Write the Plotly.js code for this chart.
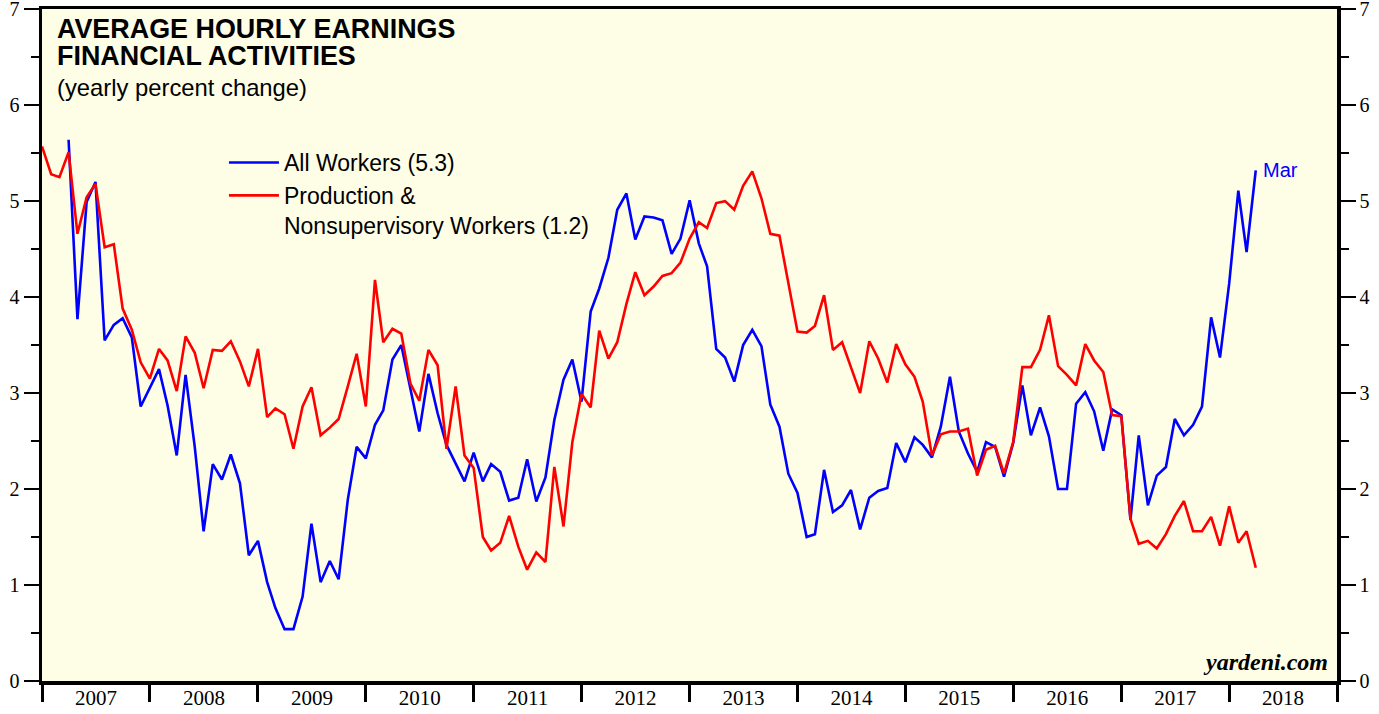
<!DOCTYPE html>
<html>
<head>
<meta charset="utf-8">
<script src="https://cdn.plot.ly/plotly-3.0.1.min.js"></script>
<style>
  html, body { margin: 0; padding: 0; background: #ffffff; }
  #chart { width: 1379px; height: 714px; }
</style>
</head>
<body>
<div id="chart"></div>
<script>
// Monthly series, first red observation plotted at 2007-01 boundary
const firstMonth = [2007, 0];   // year, month index of first plotted point
const blueOffset = 3;           // blue series starts 3 months later

const allWorkers = [
  5.64, 3.77, 4.99, 5.20, 3.55, 3.71, 3.78, 3.58, 2.86, 3.06, 3.25, 2.87, 2.35, 3.19, 2.44, 1.56, 2.26, 2.10, 2.36, 2.06, 1.31, 1.46, 1.03, 0.76, 0.54,
  0.54, 0.88, 1.64, 1.03, 1.25, 1.06, 1.89, 2.44, 2.32, 2.67, 2.82, 3.35, 3.50, 3.05, 2.60, 3.20, 2.79, 2.46, 2.27, 2.08, 2.38, 2.08, 2.26, 2.18, 1.88, 1.91, 2.31,
  1.87, 2.12, 2.72, 3.14, 3.35, 2.91, 3.85, 4.09, 4.41, 4.91, 5.08, 4.60, 4.84, 4.83, 4.80, 4.45, 4.61, 5.01, 4.56, 4.32, 3.46, 3.37, 3.12, 3.50, 3.66, 3.49, 2.88, 2.65,
  2.16, 1.96, 1.50, 1.53, 2.20, 1.76, 1.83, 1.99, 1.58, 1.91, 1.98, 2.01, 2.48, 2.28, 2.54, 2.46, 2.33, 2.65, 3.17, 2.60, 2.37, 2.18, 2.49, 2.44, 2.13, 2.48,
  3.08, 2.56, 2.85, 2.55, 2.00, 2.00, 2.89, 3.01, 2.81, 2.40, 2.83, 2.77, 1.68, 2.56, 1.83, 2.14, 2.23, 2.73, 2.56, 2.67, 2.86, 3.79, 3.37, 4.14, 5.11, 4.47, 5.32
];

const productionWorkers = [
  5.57, 5.28, 5.25, 5.51, 4.66, 5.04, 5.18, 4.52, 4.55, 3.88, 3.66, 3.32, 3.15, 3.46, 3.34, 3.02, 3.59, 3.42, 3.05, 3.45, 3.44, 3.54, 3.33, 3.07, 3.46, 2.75, 2.84, 2.78,
  2.42, 2.86, 3.06, 2.56, 2.64, 2.73, 3.07, 3.41, 2.86, 4.18, 3.53, 3.67, 3.62, 3.10, 2.92, 3.45, 3.29, 2.42, 3.07, 2.35, 2.22, 1.50, 1.36, 1.44, 1.72, 1.40, 1.16,
  1.34, 1.24, 2.23, 1.61, 2.49, 2.99, 2.85, 3.65, 3.36, 3.53, 3.93, 4.26, 4.02, 4.11, 4.22, 4.25, 4.36, 4.61, 4.78, 4.72, 4.98, 5.00, 4.91, 5.16, 5.31, 5.03, 4.66, 4.64,
  4.14, 3.64, 3.63, 3.70, 4.02, 3.45, 3.53, 3.27, 3.00, 3.54, 3.36, 3.11, 3.51, 3.30, 3.17, 2.91, 2.35, 2.57, 2.60, 2.60, 2.63, 2.14, 2.41, 2.45, 2.16, 2.49,
  3.27, 3.27, 3.45, 3.81, 3.28, 3.19, 3.08, 3.51, 3.34, 3.22, 2.77, 2.76, 1.69, 1.43, 1.46, 1.38, 1.53, 1.72, 1.875, 1.56, 1.56, 1.71, 1.41, 1.82, 1.44, 1.56, 1.18
];

const legendNames = ['All Workers (5.3)', 'Production &<br>Nonsupervisory Workers (1.2)'];
const titleLines = ['AVERAGE HOURLY EARNINGS', 'FINANCIAL ACTIVITIES'];
const subtitle = '(yearly percent change)';
const lastLabel = 'Mar';
const yTicks = [0, 1, 2, 3, 4, 5, 6, 7];

function monthDate(offset) {
  const d = new Date(Date.UTC(firstMonth[0], firstMonth[1] + offset, 1));
  const m = String(d.getUTCMonth() + 1).padStart(2, '0');
  return d.getUTCFullYear() + '-' + m + '-01';
}
const redX = productionWorkers.map((_, i) => monthDate(i));
const blueX = allWorkers.map((_, i) => monthDate(i + blueOffset));

const sans = 'Liberation Sans, Arial, sans-serif';
const serif = 'Liberation Serif, Times New Roman, serif';
const xRange = ['2007-01-01', '2019-01-01'];

const traces = [
  { x: blueX, y: allWorkers, type: 'scatter', mode: 'lines', name: legendNames[0],
    xaxis: 'x', yaxis: 'y',
    line: { color: '#0000ff', width: 2.6 } },
  { x: redX, y: productionWorkers, type: 'scatter', mode: 'lines', name: legendNames[1],
    xaxis: 'x2', yaxis: 'y2',
    line: { color: '#ff0000', width: 2.6 } }
];

const yCommon = {
  range: [0, 7.002], tickvals: yTicks, ticks: 'outside', ticklen: 15, tickwidth: 1.5,
  tickcolor: '#000', showgrid: false, zeroline: false, showline: true, linewidth: 3.5,
  linecolor: '#000', tickfont: { family: serif, size: 20, color: '#000' },
  ticklabeloverflow: 'allow',
  minor: { dtick: 0.5, tick0: 0, ticks: 'outside', ticklen: 8, tickwidth: 1.5, tickcolor: '#000', showgrid: false },
  fixedrange: true
};

const layout = {
  width: 1379, height: 714,
  margin: { l: 42, r: 42, t: 9, b: 33 },
  paper_bgcolor: '#ffffff',
  plot_bgcolor: '#fefee6',
  showlegend: true,
  legend: {
    x: 0.1405, xanchor: 'left', y: 0.8036, yanchor: 'top',
    bgcolor: 'rgba(0,0,0,0)', borderwidth: 0,
    font: { family: sans, size: 23, color: '#000' },
    valign: 'top', itemwidth: 50, traceorder: 'normal'
  },
  // year labels (centred in each year), lifted slightly toward the axis
  xaxis: {
    type: 'date', range: xRange, anchor: 'free', position: 0.0149,
    tick0: '2007-01-01', dtick: 'M12', tickformat: '%Y', ticklabelmode: 'period',
    ticks: 'outside', ticklen: 8, tickwidth: 1, tickcolor: 'rgba(0,0,0,0)',
    ticklabeloverflow: 'allow',
    showgrid: false, zeroline: false, showline: false,
    tickfont: { family: serif, size: 21, color: '#000' },
    fixedrange: true
  },
  // frame line and year boundary tick marks
  xaxis2: {
    type: 'date', range: xRange, overlaying: 'x', anchor: 'y', side: 'bottom',
    tick0: '2007-01-01', dtick: 'M12', showticklabels: false,
    ticks: 'outside', ticklen: 17, tickwidth: 3, tickcolor: '#000',
    showgrid: false, zeroline: false, showline: true, linewidth: 3.5, linecolor: '#000',
    mirror: true,
    fixedrange: true
  },
  yaxis: Object.assign({}, yCommon, { side: 'left' }),
  yaxis2: Object.assign({}, yCommon, { side: 'right', overlaying: 'y', anchor: 'x2' }),
  annotations: [
    { xref: 'paper', yref: 'paper', x: 0.0100, y: (681 - 29.5) / 672, xanchor: 'left', yanchor: 'middle',
      text: '<b>' + titleLines[0] + '</b>', showarrow: false,
      font: { family: sans, size: 26.9, color: '#000' } },
    { xref: 'paper', yref: 'paper', x: 0.0100, y: (681 - 55.5) / 672, xanchor: 'left', yanchor: 'middle',
      text: '<b>' + titleLines[1] + '</b>', showarrow: false,
      font: { family: sans, size: 26.9, color: '#000' } },
    { xref: 'paper', yref: 'paper', x: 0.0100, y: (681 - 87) / 672, xanchor: 'left', yanchor: 'middle',
      text: subtitle, showarrow: false,
      font: { family: sans, size: 23.8, color: '#000' } },
    { xref: 'x', yref: 'y', x: blueX[blueX.length - 1], y: allWorkers[allWorkers.length - 1],
      xanchor: 'left', yanchor: 'middle', xshift: 5, text: lastLabel, showarrow: false,
      font: { family: sans, size: 20, color: '#0000ff' } },
    { xref: 'paper', yref: 'paper', x: 0.9945, y: 0.006, xanchor: 'right', yanchor: 'bottom',
      text: '<b><i>yardeni.com</i></b>', showarrow: false,
      font: { family: serif, size: 24, color: '#000' } }
  ]
};

Plotly.newPlot('chart', traces, layout, { displayModeBar: false, staticPlot: true });
</script>
</body>
</html>
